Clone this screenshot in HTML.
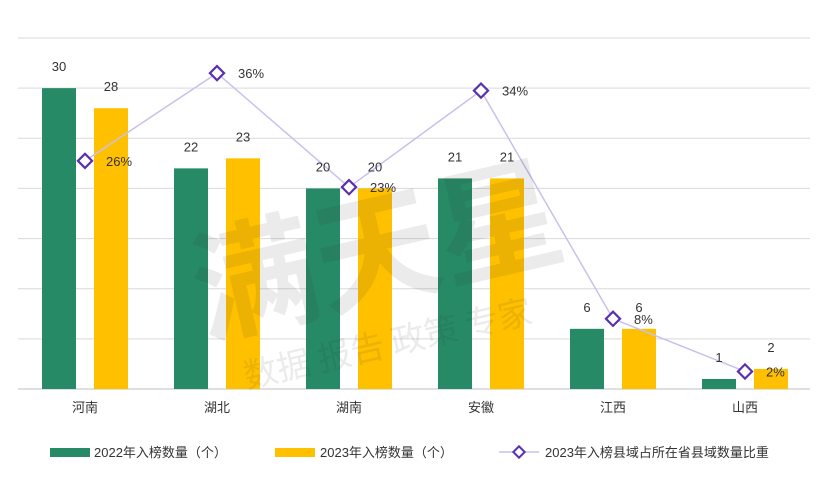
<!DOCTYPE html>
<html><head><meta charset="utf-8">
<style>
html,body{margin:0;padding:0;background:#fff;}
svg{display:block;font-family:"Liberation Sans","Noto Sans CJK SC",sans-serif;}
</style></head>
<body>
<svg id="chart" width="830" height="480">
<g id="grid"></g><g id="bars"></g><g id="line"></g><g id="labels"></g><g id="legend"></g>
<g id="wm" opacity="0.09">
<text x="185" y="290" font-size="125" font-weight="bold" fill="#333" transform="rotate(-13 400 230)" font-family="Noto Sans CJK SC, sans-serif">满天星</text>
<text x="215" y="350" font-size="34" fill="#333" transform="rotate(-13 400 230)" font-family="Noto Sans CJK SC, sans-serif">数据 报告 政策 专家</text>
</g>
</svg>
<script>
const categories=["河南","湖北","湖南","安徽","江西","山西"];
const values2022=[30,22,20,21,6,1];
const values2023=[28,23,20,21,6,2];
const shares2023=[26,36,23,34,8,2];
const yMax=35, pMax=40;
const NS="http://www.w3.org/2000/svg";
const x0=19, catW=132, baseY=389, topY=38;
const y=v=>baseY-(baseY-topY)*v/yMax;
const yp=v=>baseY-(baseY-topY)*v/pMax;
const cx=i=>x0+catW*(i+0.5);
function mk(tag,attrs,parent){const e=document.createElementNS(NS,tag);for(const k in attrs)e.setAttribute(k,attrs[k]);parent.appendChild(e);return e;}
const G=id=>document.getElementById(id);
for(let v=0;v<=yMax;v+=5){
  const l=mk('line',{x1:18,x2:810,y1:y(v),y2:y(v),stroke:v===0?'#bfbfbf':'#d9d9d9','stroke-width':1},G('grid'));
  
  
}
categories.forEach((c,i)=>{
  const t=mk('text',{x:cx(i),y:412,'text-anchor':'middle','font-size':13,fill:'#333'},G('labels'));t.textContent=c;
  
  
  const b1=mk('rect',{x:cx(i)-43,y:y(values2022[i]),width:34,height:baseY-y(values2022[i]),fill:'#268a66'},G('bars'));
  
  
  const b2=mk('rect',{x:cx(i)+9,y:y(values2023[i]),width:34,height:baseY-y(values2023[i]),fill:'#ffc000'},G('bars'));
  
  
  const l1=mk('text',{x:cx(i)-26,y:y(values2022[i])-17,'text-anchor':'middle','font-size':13,fill:'#333'},G('labels'));l1.textContent=values2022[i];
  
  
  const l2=mk('text',{x:cx(i)+26,y:y(values2023[i])-17,'text-anchor':'middle','font-size':13,fill:'#333'},G('labels'));l2.textContent=values2023[i];
  
  
});
const pts=shares2023.map((v,i)=>cx(i)+','+yp(v)).join(' ');
const pl=mk('polyline',{points:pts,fill:'none',stroke:'#c9c0ee','stroke-width':1.5},G('line'));


shares2023.forEach((v,i)=>{
  const m=mk('rect',{x:cx(i)-5,y:yp(v)-5,width:10,height:10,fill:'#fff',stroke:'#5a2fb0','stroke-width':2.2,transform:`rotate(45 ${cx(i)} ${yp(v)})`},G('line'));
  
  
  const t=mk('text',{x:cx(i)+21,y:yp(v)+5,'font-size':13,fill:'#333'},G('labels'));t.textContent=v+'%';
  
  
});
const lg=G('legend');
let e=mk('rect',{x:50,y:448,width:40,height:9,fill:'#268a66'},lg);


e=mk('text',{x:94,y:457,'font-size':13,fill:'#333'},lg);e.textContent='2022年入榜数量（个）';


e=mk('rect',{x:275,y:448,width:40,height:9,fill:'#ffc000'},lg);


e=mk('text',{x:320,y:457,'font-size':13,fill:'#333'},lg);e.textContent='2023年入榜数量（个）';


e=mk('line',{x1:499,x2:539,y1:452,y2:452,stroke:'#c9c0ee','stroke-width':1.5},lg);


e=mk('rect',{x:515,y:448,width:8,height:8,fill:'#fff',stroke:'#5a2fb0','stroke-width':2,transform:'rotate(45 519 452)'},lg);


e=mk('text',{x:545,y:457,'font-size':13,fill:'#333'},lg);e.textContent='2023年入榜县域占所在省县域数量比重';


</script>
</body></html>
